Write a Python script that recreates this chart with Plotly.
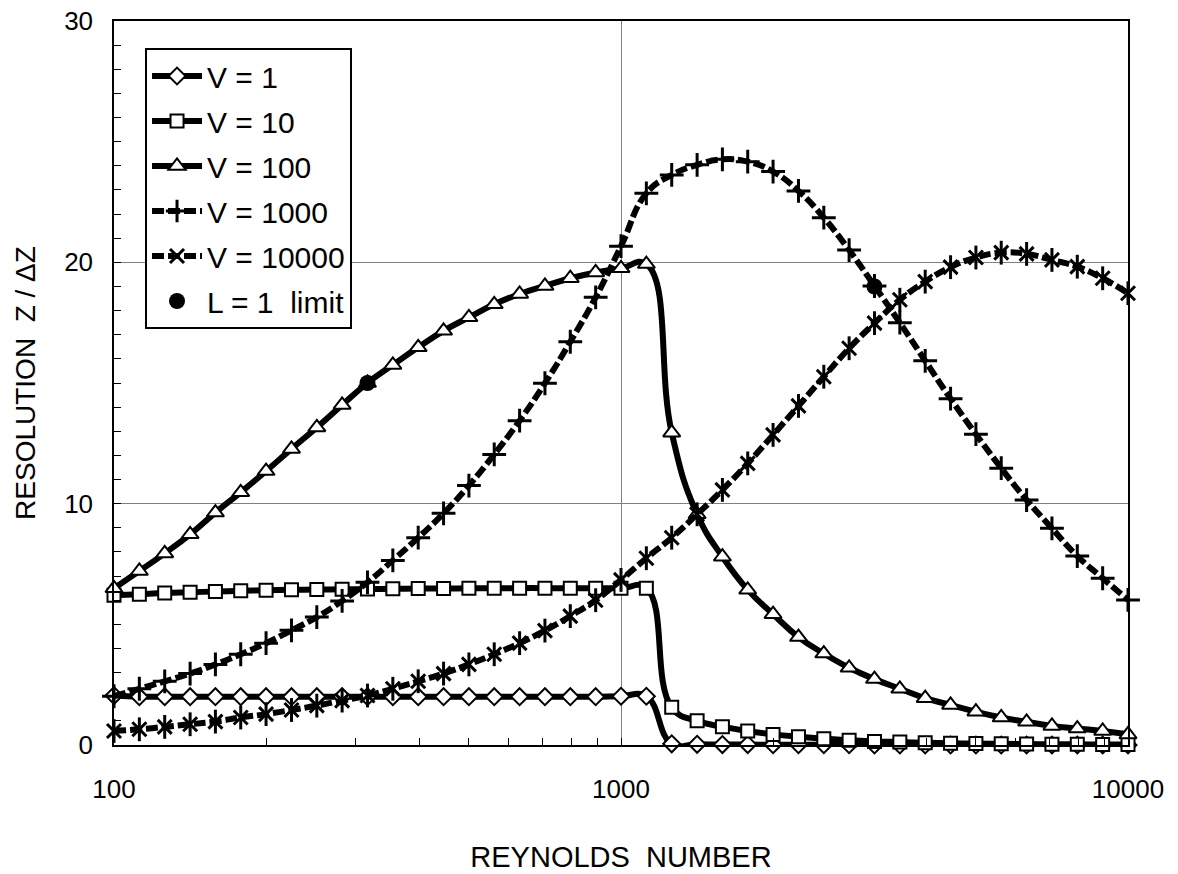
import plotly.graph_objects as go

reynolds = [100, 112.2, 125.9, 141.3, 158.5, 177.8, 199.5, 223.9, 251.2, 281.8,
            316.2, 354.8, 398.1, 446.7, 501.2, 562.3, 631.0, 707.9, 794.3, 891.3,
            1000, 1122, 1259, 1413, 1585, 1778, 1995, 2239, 2512, 2818,
            3162, 3548, 3981, 4467, 5012, 5623, 6310, 7079, 7943, 8913, 10000]

v1 = [2.05, 2.0, 2.0, 2.0, 2.0, 2.0, 2.0, 2.0, 2.0, 2.0,
      2.0, 2.0, 2.0, 2.0, 2.0, 2.0, 2.0, 2.0, 2.0, 2.0,
      2.02, 2.02, 0.05, 0.03, 0.02, 0.02, 0.01, 0.01, 0.01, 0.01,
      0.0, 0.0, 0.0, 0.0, 0.0, 0.0, 0.0, 0.0, 0.0, 0.0, 0.0]

v10 = [6.2, 6.25, 6.3, 6.33, 6.36, 6.39, 6.41, 6.43, 6.44, 6.45,
       6.46, 6.47, 6.48, 6.48, 6.49, 6.49, 6.5, 6.5, 6.5, 6.5,
       6.5, 6.5, 1.56, 1.0, 0.76, 0.58, 0.44, 0.34, 0.26, 0.2,
       0.15, 0.12, 0.09, 0.07, 0.06, 0.05, 0.04, 0.03, 0.03, 0.02, 0.02]

v100 = [6.49, 7.21, 7.94, 8.73, 9.63, 10.47, 11.35, 12.27, 13.16, 14.09,
        15.0, 15.75, 16.48, 17.16, 17.72, 18.26, 18.69, 19.02, 19.34, 19.58,
        19.75, 19.93, 12.94, 9.56, 7.8, 6.43, 5.42, 4.47, 3.79, 3.2,
        2.73, 2.33, 1.94, 1.66, 1.38, 1.14, 0.96, 0.79, 0.68, 0.58, 0.44]

v1000 = [2.02, 2.33, 2.64, 2.96, 3.34, 3.76, 4.22, 4.75, 5.3, 5.97,
         6.74, 7.65, 8.59, 9.6, 10.75, 12.04, 13.44, 14.99, 16.71, 18.55,
         20.67, 22.86, 23.62, 24.04, 24.27, 24.17, 23.76, 22.96, 21.85, 20.51,
         19.02, 17.5, 15.92, 14.35, 12.88, 11.47, 10.15, 8.98, 7.83, 6.91, 6.01]

v10000 = [0.58, 0.65, 0.75, 0.86, 0.97, 1.14, 1.28, 1.45, 1.63, 1.84,
          2.05, 2.33, 2.64, 2.96, 3.34, 3.76, 4.22, 4.74, 5.34, 6.0,
          6.84, 7.74, 8.59, 9.56, 10.57, 11.67, 12.85, 14.05, 15.26, 16.44,
          17.48, 18.45, 19.2, 19.8, 20.2, 20.4, 20.35, 20.1, 19.82, 19.34, 18.72]

limit_re = [316.2, 3162]
limit_res = [15.0, 19.0]

FONT = "Liberation Sans, Arial, sans-serif"
LW = 6

fig = go.Figure()

def add_series(name, y, symbol, size, fill, dash, mlw, group):
    fig.add_trace(go.Scatter(
        x=reynolds, y=y, name=name, mode="lines+markers",
        line=dict(color="black", width=LW, shape="spline", smoothing=1.3, dash=dash),
        marker=dict(symbol=symbol, size=size, color=fill,
                    line=dict(color="black", width=mlw)),
        cliponaxis=False, legendgroup=group))

add_series("V = 1", v1, "diamond", 13, "white", "solid", 2, "g1")
add_series("V = 10", v10, "square", 13, "white", "solid", 2, "g2")
add_series("V = 100", v100, "triangle-up", 15, "white", "solid", 2, "g3")
add_series("V = 1000", v1000, "cross-thin", 17, "black", "12px,4px", 3, "g4")
add_series("V = 10000", v10000, "x-thin", 14, "black", "12px,4px", 3, "g5")
fig.add_trace(go.Scatter(
    x=reynolds, y=v10000, mode="markers", showlegend=False, legendgroup="g5",
    marker=dict(symbol="line-ns", size=17, color="black",
                line=dict(color="black", width=3)),
    cliponaxis=False, hoverinfo="skip"))
fig.add_trace(go.Scatter(
    x=limit_re, y=limit_res, name="L = 1  limit", mode="markers",
    marker=dict(symbol="circle", size=16, color="black"),
    cliponaxis=False, legendgroup="g6"))

fig.update_layout(
    width=1178, height=874,
    margin=dict(l=114, r=50, t=21, b=129),
    paper_bgcolor="white", plot_bgcolor="white",
    font=dict(family=FONT, size=26, color="black"),
    showlegend=True,
    legend=dict(x=0.0306, y=0.9627, xanchor="left", yanchor="top",
                bgcolor="white", bordercolor="black", borderwidth=2,
                font=dict(size=30, family=FONT), traceorder="grouped",
                tracegroupgap=3, itemwidth=50),
)

fig.update_xaxes(
    type="log", range=[2, 4], automargin=False,
    tickvals=[100, 1000, 10000], ticktext=["100", "1000", "10000"],
    ticks="inside", ticklen=7, tickcolor="black",
    showline=True, linecolor="black", linewidth=1.5, mirror=True,
    showgrid=True, gridcolor="#808080", gridwidth=1,
    zeroline=False,
    tickfont=dict(size=26), ticklabelstandoff=20,
    minor=dict(tickmode="array",
               tickvals=[200, 300, 400, 500, 600, 700, 800, 900,
                         2000, 3000, 4000, 5000, 6000, 7000, 8000, 9000],
               ticks="inside", ticklen=7, tickcolor="black", showgrid=False),
    title=dict(text="REYNOLDS\u00a0\u00a0NUMBER", font=dict(size=29), standoff=44),
)

fig.update_yaxes(
    range=[0, 30], dtick=10, tick0=0, automargin=False,
    ticks="inside", ticklen=7, tickcolor="black",
    showline=True, linecolor="black", linewidth=1.5, mirror=True,
    showgrid=True, gridcolor="#808080", gridwidth=1,
    zeroline=False,
    tickfont=dict(size=26), ticklabelstandoff=14,
    minor=dict(dtick=1, ticks="inside", ticklen=7, tickcolor="black", showgrid=False),
    title=dict(text="RESOLUTION\u00a0\u00a0Z / \u0394Z", font=dict(size=28), standoff=20),
)

fig.write_html("out.html")
